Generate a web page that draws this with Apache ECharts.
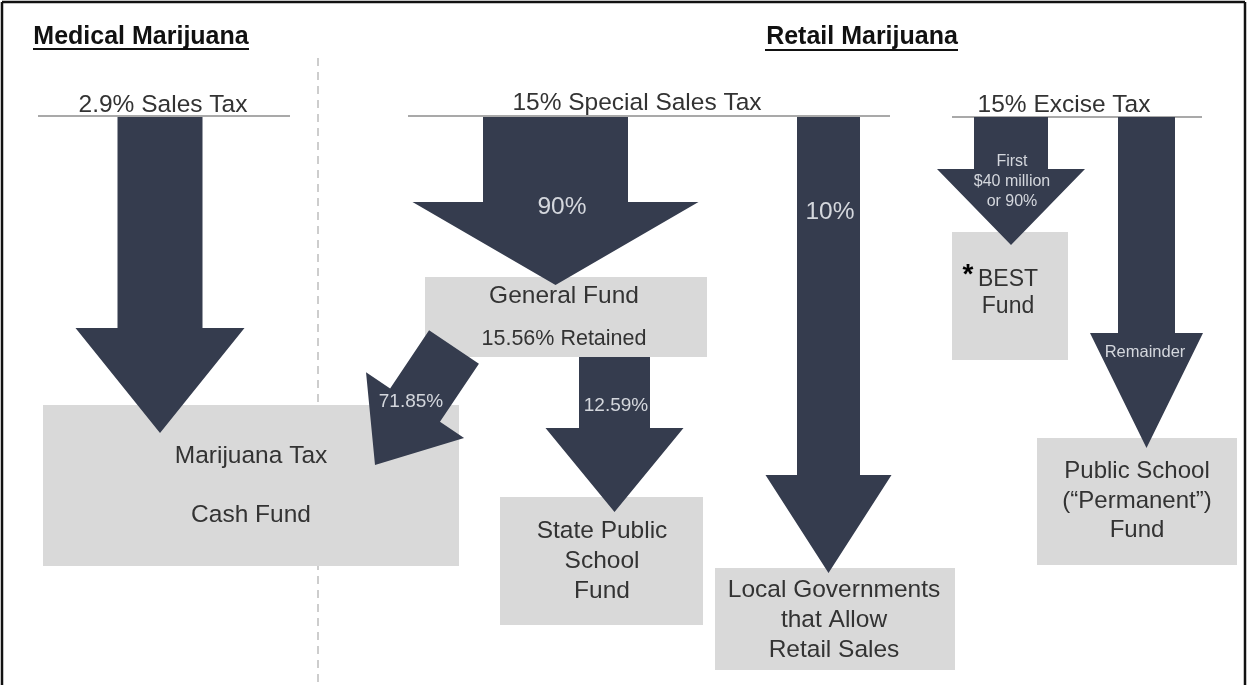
<!DOCTYPE html>
<html>
<head>
<meta charset="utf-8">
<title>Marijuana tax distribution</title>
<script src="https://cdn.jsdelivr.net/npm/echarts@6/dist/echarts.min.js"></script>
<style>
  html, body { margin: 0; padding: 0; background: #fff; }
  #chart { width: 1247px; height: 685px; }
</style>
</head>
<body>
<div id="chart"></div>
<script>
// ---- content ----
const headings = ['Medical Marijuana', 'Retail Marijuana'];
const taxNames = ['2.9% Sales Tax', '15% Special Sales Tax', '15% Excise Tax'];
const fundNames = [
  ['Marijuana Tax', 'Cash Fund'],
  ['General Fund', '15.56% Retained'],
  ['BEST', 'Fund'],
  ['State Public', 'School', 'Fund'],
  ['Local Governments', 'that Allow', 'Retail Sales'],
  ['Public School', '(\u201cPermanent\u201d)', 'Fund']
];
const flowLabels = [[], ['90%'], ['10%'], ['First', '$40 million', 'or 90%'], ['Remainder'], ['12.59%'], ['71.85%']];

// ---- layout (diagram units = pixels of the 1247x685 picture) ----
const headingAt = [[141, 37], [862, 37]];
const headingRules = [[33, 49, 249, 49], [765, 50, 958, 50]];
const taxAt = [[163, 105], [637, 103], [1064, 105]];
const taxRules = [[38, 116, 290, 116], [408, 116, 890, 116], [952, 117, 1202, 117]];
const divider = [[318, 58, 318, 690]];
const frame = [[2, 690, 2, 2], [2, 2, 1245, 2], [1245, 2, 1245, 690]];

// boxes: x0, y0, x1, y1
const fundBoxes = [
  [43, 405, 459, 566],
  [425, 277, 707, 357],
  [952, 232, 1068, 360],
  [500, 497, 703, 625],
  [715, 568, 955, 670],
  [1037, 438, 1237, 565]
];
// text line centres per box: x, then y of each line
const fundTextAt = [
  [251, 456, 515],
  [564, 296, 339],
  [1008, 280, 307],
  [602, 531, 561, 591],
  [834, 590, 620, 650],
  [1137, 471, 501, 530]
];
const fundTextSize = [[24.5, 24.5], [24.5, 21.5], [23, 23], [24.5, 24.5, 24.5], [24.5, 24.5, 24.5], [24, 24, 24]];

// arrows: tail x, tail y, tip x, tip y, shaft width, head width, head length
const flows = [
  [160, 117, 160, 433, 85, 169, 105],
  [555.5, 117, 555.5, 285, 145, 286, 83],
  [828.5, 117, 828.5, 573, 63, 126, 98],
  [1011, 117, 1011, 245, 74, 148, 76],
  [1146.5, 117, 1146.5, 448, 57, 113, 115],
  [614.5, 357, 614.5, 512, 71, 138, 84],
  [454, 347, 375, 465, 60, 118, 72]
];
// label centres on arrows: x, then y of each line
const flowTextAt = [[], [562, 207], [830, 212], [1012, 162, 182, 202], [1145, 352], [616, 406], [411, 402]];
const flowTextSize = [[], [24.5], [24.5], [16, 16, 16], [16.5], [19], [19]];

const FONT = '"Liberation Sans", Arial, Helvetica, sans-serif';
const ARROW = '#353c4e';
const BOX = '#d9d9d9';
const INK = '#333333';
const ARROW_INK = '#d4d7dd';

// flatten text items into rows the custom series can place
const texts = [];
headings.forEach((t, i) => texts.push({ t, x: headingAt[i][0], y: headingAt[i][1], size: 25, weight: 'bold', fill: '#111' }));
taxNames.forEach((t, i) => texts.push({ t, x: taxAt[i][0], y: taxAt[i][1], size: 24.5, weight: 'normal', fill: INK }));
fundNames.forEach((lines, i) => lines.forEach((t, j) => texts.push({
  t, x: fundTextAt[i][0], y: fundTextAt[i][j + 1], size: fundTextSize[i][j], weight: 'normal', fill: INK
})));
flowLabels.forEach((lines, i) => lines.forEach((t, j) => texts.push({
  t, x: flowTextAt[i][0], y: flowTextAt[i][j + 1], size: flowTextSize[i][j], weight: 'normal', fill: ARROW_INK
})));
texts.push({ t: '*', x: 968, y: 275, size: 28, weight: 'bold', fill: '#000' });

const lineRows = [];
headingRules.forEach(r => lineRows.push(r.concat([1.8, 0, 0])));   // width, dashed, colour idx
taxRules.forEach(r => lineRows.push(r.concat([1.5, 0, 1])));
divider.forEach(r => lineRows.push(r.concat([1.5, 1, 2])));
frame.forEach(r => lineRows.push(r.concat([2.5, 0, 0])));
const lineColors = ['#111', '#8c8c8c', '#bdbdbd'];

const chart = echarts.init(document.getElementById('chart'), null, { renderer: 'canvas' });

chart.setOption({
  animation: false,
  backgroundColor: '#fff',
  grid: { left: 0, right: 0, top: 0, bottom: 0 },
  xAxis: { type: 'value', min: 0, max: 1247, show: false },
  yAxis: { type: 'value', min: 0, max: 685, inverse: true, show: false },
  series: [
    {
      type: 'custom',
      name: 'lines',
      z: 1,
      silent: true,
      data: lineRows,
      renderItem: function (params, api) {
        const a = api.coord([api.value(0), api.value(1)]);
        const b = api.coord([api.value(2), api.value(3)]);
        return {
          type: 'line',
          shape: { x1: a[0], y1: a[1], x2: b[0], y2: b[1] },
          style: {
            stroke: lineColors[api.value(6)],
            lineWidth: api.value(4),
            lineDash: api.value(5) ? [8, 6] : null
          }
        };
      }
    },
    {
      type: 'custom',
      name: 'funds',
      z: 2,
      silent: true,
      data: fundBoxes,
      renderItem: function (params, api) {
        const a = api.coord([api.value(0), api.value(1)]);
        const b = api.coord([api.value(2), api.value(3)]);
        return {
          type: 'rect',
          shape: { x: a[0], y: a[1], width: b[0] - a[0], height: b[1] - a[1] },
          style: { fill: BOX }
        };
      }
    },
    {
      type: 'custom',
      name: 'flows',
      z: 3,
      silent: true,
      data: flows,
      renderItem: function (params, api) {
        const s = api.coord([api.value(0), api.value(1)]);
        const e = api.coord([api.value(2), api.value(3)]);
        const sw = api.size([api.value(4), 0])[0] / 2;
        const hw = api.size([api.value(5), 0])[0] / 2;
        const hl = api.size([0, api.value(6)])[1];
        const dx = e[0] - s[0], dy = e[1] - s[1];
        const len = Math.sqrt(dx * dx + dy * dy);
        const ux = dx / len, uy = dy / len;   // along the arrow
        const nx = -uy, ny = ux;              // across it
        const bx = e[0] - ux * hl, by = e[1] - uy * hl;
        const pts = [
          [s[0] + nx * sw, s[1] + ny * sw],
          [bx + nx * sw, by + ny * sw],
          [bx + nx * hw, by + ny * hw],
          [e[0], e[1]],
          [bx - nx * hw, by - ny * hw],
          [bx - nx * sw, by - ny * sw],
          [s[0] - nx * sw, s[1] - ny * sw]
        ];
        return { type: 'polygon', shape: { points: pts }, style: { fill: ARROW } };
      }
    },
    {
      type: 'custom',
      name: 'texts',
      z: 4,
      silent: true,
      data: texts.map(d => [d.x, d.y]),
      renderItem: function (params, api) {
        const d = texts[params.dataIndex];
        const p = api.coord([api.value(0), api.value(1)]);
        return {
          type: 'text',
          x: p[0],
          y: p[1],
          style: {
            text: d.t,
            fill: d.fill,
            fontSize: d.size,
            fontWeight: d.weight,
            fontFamily: FONT,
            align: 'center',
            verticalAlign: 'middle'
          }
        };
      }
    }
  ]
});

window.addEventListener('resize', () => chart.resize());
</script>
</body>
</html>
